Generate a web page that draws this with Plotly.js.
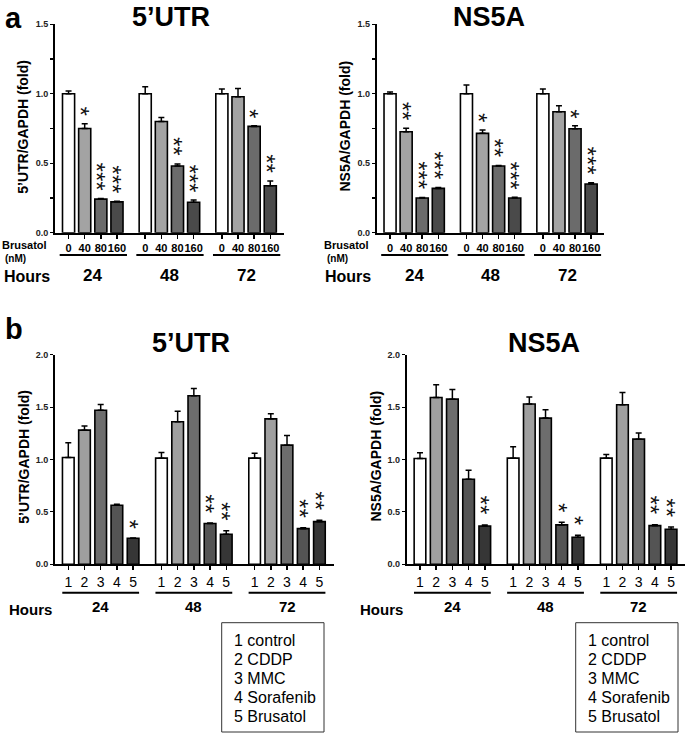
<!DOCTYPE html>
<html>
<head>
<meta charset="utf-8">
<script src="https://cdn.plot.ly/plotly-3.0.1.min.js"></script>
<style>html,body{margin:0;padding:0;background:#fff;}#chart{width:685px;height:733px;}</style>
</head>
<body>
<div id="chart"></div>
<script>
// ---------- data ----------
const hoursGroups = ['24', '48', '72'];
const brusatolDoses = ['0', '40', '80', '160'];
const treatmentCodes = ['1', '2', '3', '4', '5'];
const treatmentLegend = ['1 control', '2 CDDP', '3 MMC', '4 Sorafenib', '5 Brusatol'];

// Panel a: Brusatol dose series (per group: 0, 40, 80, 160 nM)
const aUTR      = [1.00, 0.750, 0.242, 0.222,  1.00, 0.800, 0.480, 0.219,  1.00, 0.978, 0.765, 0.338];
const aUTRerr   = [0.020, 0.035, 0.005, 0.004, 0.050, 0.030, 0.015, 0.016, 0.034, 0.060, 0.005, 0.034];
const aUTRsig   = ['', '*', '***', '***', '', '', '**', '***', '', '', '*', '**'];
const aNS5A     = [1.00, 0.727, 0.250, 0.319,  1.00, 0.715, 0.480, 0.250,  1.00, 0.871, 0.748, 0.350];
const aNS5Aerr  = [0.012, 0.024, 0.004, 0.006, 0.063, 0.024, 0.003, 0.005, 0.034, 0.043, 0.022, 0.010];
const aNS5Asig  = ['', '**', '***', '***', '', '*', '**', '***', '', '', '*', '***'];

// Panel b: treatments 1..5 per group
const bUTR      = [1.019, 1.280, 1.470, 0.564, 0.248,  1.013, 1.360, 1.608, 0.390, 0.287,  1.013, 1.388, 1.137, 0.340, 0.407];
const bUTRerr   = [0.140, 0.040, 0.055, 0.008, 0.003,  0.053, 0.100, 0.070, 0.005, 0.034,  0.047, 0.048, 0.092, 0.008, 0.013];
const bUTRsig   = ['', '', '', '', '*', '', '', '', '**', '**', '', '', '', '**', '**'];
const bNS5A     = [1.010, 1.592, 1.576, 0.812, 0.366,  1.013, 1.529, 1.395, 0.376, 0.258,  1.013, 1.522, 1.194, 0.369, 0.335];
const bNS5Aerr  = [0.054, 0.121, 0.093, 0.086, 0.010,  0.108, 0.067, 0.080, 0.025, 0.019,  0.034, 0.118, 0.058, 0.008, 0.022];
const bNS5Asig  = ['', '', '', '', '**', '', '', '', '*', '*', '', '', '', '**', '**'];

// ---------- styling ----------
const W = 685, H = 733;
const FONT = 'Liberation Sans, Arial, Helvetica, sans-serif';
const colorsA = ['#ffffff', '#a3a3a3', '#6b6b6b', '#4a4a4a'];
const colorsB = ['#ffffff', '#9f9f9f', '#6d6d6d', '#545454', '#363636'];
const px = x => x / W;
const py = y => 1 - y / H;

const traces = [];
const shapes = [];
const annotations = [];
const layout = {
  width: W, height: H,
  margin: {l: 0, r: 0, t: 0, b: 0, pad: 0},
  paper_bgcolor: '#fff', plot_bgcolor: '#fff',
  showlegend: false,
  bargap: 0
};

function addPanel(cfg) {
  const n = cfg.cats.length;
  const xs = [], cols = [], labels = [];
  hoursGroups.forEach((g, gi) => {
    cfg.cats.forEach((c, ci) => {
      xs.push(gi * cfg.gap + ci);
      cols.push(cfg.colors[ci]);
      labels.push(c);
    });
  });
  const xa = 'x' + (cfg.idx === 1 ? '' : cfg.idx);
  const ya = 'y' + (cfg.idx === 1 ? '' : cfg.idx);
  const xk = 'xaxis' + (cfg.idx === 1 ? '' : cfg.idx);
  const yk = 'yaxis' + (cfg.idx === 1 ? '' : cfg.idx);
  traces.push({
    type: 'bar', x: xs, y: cfg.vals, xaxis: xa, yaxis: ya,
    width: xs.map(() => cfg.barW),
    marker: {color: cols, line: {color: '#000', width: 1.6}},
    error_y: {type: 'data', symmetric: false, array: cfg.errs, arrayminus: cfg.errs.map(() => 0),
              color: '#000', thickness: 1.5, width: 3},
    hoverinfo: 'skip'
  });
  layout[xk] = {
    domain: [px(cfg.x0), px(cfg.x1)], range: cfg.xrange, anchor: ya,
    showline: true, linewidth: 2, linecolor: '#000', mirror: false,
    ticks: 'outside', ticklen: 4, tickwidth: 1.5, tickcolor: '#000',
    tickmode: 'array', tickvals: xs, ticktext: labels, tickangle: 0,
    tickfont: cfg.xtickfont,
    showgrid: false, zeroline: false, fixedrange: true
  };
  layout[yk] = {
    domain: [py(cfg.yb), py(cfg.yt)], range: [0, cfg.ymax], anchor: xa,
    showline: true, linewidth: 2, linecolor: '#000',
    ticks: 'outside', ticklen: 3, tickwidth: 1.2, tickcolor: '#000',
    tickmode: 'array', tickvals: cfg.ytickvals, ticktext: cfg.yticktext,
    tickfont: {family: FONT, size: 9, color: '#222', weight: 'bold'},
    showgrid: false, zeroline: false, fixedrange: true
  };
  // significance stars: one vertical (rotated) text per bar, stacked like the original
  xs.forEach((x, i) => {
    const s = cfg.sig[i];
    if (!s) return;
    annotations.push({
      xref: xa, yref: ya, x: x, y: cfg.vals[i] + cfg.errs[i],
      text: s, showarrow: false, textangle: 90,
      yanchor: 'bottom', xanchor: 'center', yshift: cfg.starBase, xshift: cfg.starDx, borderpad: 0,
      font: {family: FONT, size: cfg.starSize, color: '#111'}
    });
  });
  // group underlines + hours labels
  hoursGroups.forEach((g, gi) => {
    shapes.push({type: 'line', xref: xa, yref: 'paper',
      x0: gi * cfg.gap + cfg.lineL, x1: gi * cfg.gap + (n - 1) + cfg.lineR,
      y0: py(cfg.lineY), y1: py(cfg.lineY), line: {color: '#000', width: 2}});
    annotations.push({xref: xa, yref: 'paper', x: gi * cfg.gap + (n - 1) / 2, y: py(cfg.hoursY),
      text: '<b>' + g + '</b>', showarrow: false, xanchor: 'center', yanchor: 'middle',
      font: {family: FONT, size: cfg.hoursSize, color: '#000'}});
  });
  annotations.push({xref: 'paper', yref: 'paper', x: px(cfg.hoursLabelX), y: py(cfg.hoursLabelY),
    text: '<b>Hours</b>', showarrow: false, xanchor: 'left', yanchor: 'middle',
    font: {family: FONT, size: cfg.hoursLabelSize, color: '#000'}});
  // title
  annotations.push({xref: 'paper', yref: 'paper', x: px(cfg.titleX), y: py(cfg.titleY),
    text: '<b>' + cfg.title + '</b>', showarrow: false, xanchor: 'center', yanchor: 'middle', borderpad: 0,
    font: {family: FONT, size: 27, color: '#000'}});
  // y-axis title
  annotations.push({xref: 'paper', yref: 'paper', x: px(cfg.x0 - 31.7), y: py((cfg.yb + cfg.yt) / 2 + cfg.ytitleDy),
    text: '<b>' + cfg.ytitle + '</b>', showarrow: false, textangle: -90, xanchor: 'center', yanchor: 'middle',
    font: {family: FONT, size: 14, color: '#000'}});
}

const ticksA = [0, 0.25, 0.5, 0.75, 1.0, 1.25, 1.5];
const tickTextA = ['0.0', '', '0.5', '', '1.0', '', '1.5'];
const ticksB = [0, 0.5, 1.0, 1.5, 2.0];
const tickTextB = ['0.0', '0.5', '1.0', '1.5', '2.0'];

const panelA = {cats: brusatolDoses, colors: colorsA, gap: 4.75, barW: 0.75, ymax: 1.5,
  yb: 232.7, yt: 24.3, ytickvals: ticksA, yticktext: tickTextA,
  xtickfont: {family: FONT, size: 11, color: '#000', weight: 'bold'},
  starBase: 7, starDx: -4, starSize: 24, lineL: -0.55, lineR: 0.62, lineY: 255, hoursY: 275, hoursSize: 17,
  hoursLabelY: 277, hoursLabelSize: 16, titleY: 16.5, ytitleDy: -2};
addPanel(Object.assign({}, panelA, {idx: 1, vals: aUTR, errs: aUTRerr, sig: aUTRsig,
  x0: 55, x1: 284, xrange: [-0.84, 13.35], hoursLabelX: 2, titleX: 171,
  title: '5’UTR', ytitle: '5’UTR/GAPDH (fold)'}));
addPanel(Object.assign({}, panelA, {idx: 2, vals: aNS5A, errs: aNS5Aerr, sig: aNS5Asig,
  x0: 376.7, x1: 604, xrange: [-0.83, 13.3], hoursLabelX: 323, titleX: 489,
  title: 'NS5A', ytitle: 'NS5A/GAPDH (fold)'}));

const panelB = {cats: treatmentCodes, colors: colorsB, gap: 5.75, barW: 0.72, ymax: 2.0,
  yb: 564.3, yt: 354.7, ytickvals: ticksB, yticktext: tickTextB,
  xtickfont: {family: FONT, size: 14, color: '#000'},
  starBase: 9, starDx: -4, starSize: 24, lineL: -0.37, lineR: 0.37, lineY: 592.7, hoursY: 606, hoursSize: 15,
  hoursLabelY: 609, hoursLabelSize: 15, titleY: 343, ytitleDy: -3};
addPanel(Object.assign({}, panelB, {idx: 3, vals: bUTR, errs: bUTRerr, sig: bUTRsig,
  x0: 55, x1: 334, xrange: [-0.82, 16.4], hoursLabelX: 7, titleX: 191,
  title: '5’UTR', ytitle: '5’UTR/GAPDH (fold)'}));
addPanel(Object.assign({}, panelB, {idx: 4, vals: bNS5A, errs: bNS5Aerr, sig: bNS5Asig,
  x0: 406.7, x1: 685, xrange: [-0.82, 16.36], hoursLabelX: 358, titleX: 544,
  title: 'NS5A', ytitle: 'NS5A/GAPDH (fold)'}));

// Brusatol (nM) row labels
[0, 321.7].forEach(off => {
  annotations.push({xref: 'paper', yref: 'paper', x: px(off), y: py(245), text: '<b>Brusatol</b>',
    showarrow: false, xanchor: 'left', yanchor: 'middle', font: {family: FONT, size: 11, color: '#000'}});
  annotations.push({xref: 'paper', yref: 'paper', x: px(off + 3), y: py(258), text: '<b>(nM)</b>',
    showarrow: false, xanchor: 'left', yanchor: 'middle', font: {family: FONT, size: 10, color: '#000'}});
});

// panel letters
annotations.push({xref: 'paper', yref: 'paper', x: px(4), y: py(18), text: '<b>a</b>', showarrow: false,
  xanchor: 'left', yanchor: 'middle', borderpad: 0, font: {family: FONT, size: 29, color: '#000'}});
annotations.push({xref: 'paper', yref: 'paper', x: px(4), y: py(329), text: '<b>b</b>', showarrow: false,
  xanchor: 'left', yanchor: 'middle', borderpad: 0, font: {family: FONT, size: 29, color: '#000'}});

// legend boxes (panel b)
[0, 354].forEach(off => {
  shapes.push({type: 'rect', xref: 'paper', yref: 'paper', x0: px(221.7 + off), x1: px(324 + off),
    y0: py(732), y1: py(622.7), line: {color: '#333', width: 1}, fillcolor: 'rgba(0,0,0,0)'});
  treatmentLegend.forEach((t, k) => {
    annotations.push({xref: 'paper', yref: 'paper', x: px(231.5 + off), y: py(640 + k * 19), text: t,
      showarrow: false, xanchor: 'left', yanchor: 'middle', font: {family: FONT, size: 16, color: '#000'}});
  });
});

layout.shapes = shapes;
layout.annotations = annotations;
Plotly.newPlot('chart', traces, layout, {staticPlot: true, displayModeBar: false});
</script>
</body>
</html>
